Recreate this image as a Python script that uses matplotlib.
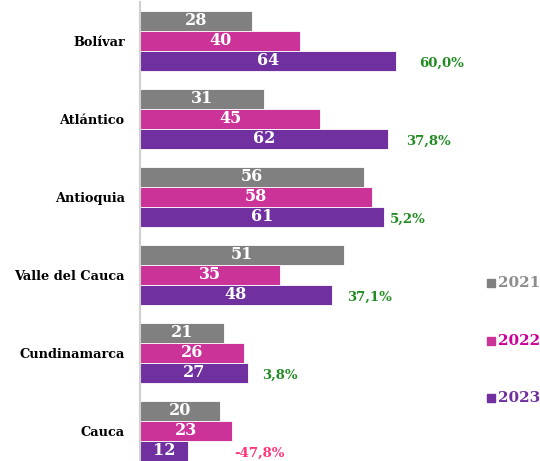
import numpy as np
import matplotlib
matplotlib.use("Agg")
import matplotlib.pyplot as plt

departamentos = ["Bolívar", "Atlántico", "Antioquia", "Valle del Cauca", "Cundinamarca", "Cauca"]
anios = ["2021", "2022", "2023"]
v2021 = [28, 31, 56, 51, 21, 20]
v2022 = [40, 45, 58, 35, 26, 23]
v2023 = [64, 62, 61, 48, 27, 12]

colores = ["#808080", "#CC3399", "#7030A0"]
colores_txt = ["#8C8C8C", "#CC0099", "#7030A0"]
# small manual nudges of the % labels (data units), as in the original
pad_pct = [5.8, 4.5, 1.5, 3.8, 3.5, 11.5]

plt.rcParams['font.family'] = ['DejaVu Serif']

fig = plt.figure(figsize=(5.4, 4.61), dpi=100)
ax = fig.add_axes([140/540, 0, 400/540, 459/461])

y = np.arange(len(departamentos))
h = 20/78
series = [v2021, v2022, v2023]
for k, vals in enumerate(series):
    yy = y + (k - 1) * h
    bars = ax.barh(yy, vals, height=h, color=colores[k], edgecolor="white", linewidth=0.6)
    for b, v in zip(bars, vals):
        ax.text(v / 2, b.get_y() + h / 2, str(v), ha="center", va="center",
                color="white", fontsize=11.5, fontweight="bold")

for i in range(len(departamentos)):
    pct = (v2023[i] - v2022[i]) / v2022[i] * 100
    txt = f"{pct:.1f}%".replace(".", ",")
    col = "#228B22" if pct >= 0 else "#FF3377"
    ax.text(v2023[i] + pad_pct[i], y[i] + h + 0.03, txt, ha="left", va="center",
            color=col, fontsize=9.5, fontweight="bold")

ax.set_xlim(0, 100)
ax.set_ylim(5.385, -0.5)
ax.set_yticks(y)
ax.set_yticklabels(departamentos, fontsize=9.3, fontweight="bold")
ax.tick_params(axis="y", length=0, pad=11)
ax.set_xticks([])
for s in ["top", "right", "bottom"]:
    ax.spines[s].set_visible(False)
ax.spines["left"].set_color("#D0D0D0")
ax.spines["left"].set_linewidth(1.5)

# legend
leg_y = [283, 341, 398]
for k in range(3):
    fig.patches.append(plt.Rectangle((487/540, 1 - (leg_y[k] + 4)/461), 8/540, 8/461,
                                     transform=fig.transFigure, color=colores[k]))
    fig.text(498/540, 1 - leg_y[k]/461, anios[k], ha="left", va="center",
             color=colores_txt[k], fontsize=11, fontweight="bold")

fig.savefig("out.png", dpi=100)
